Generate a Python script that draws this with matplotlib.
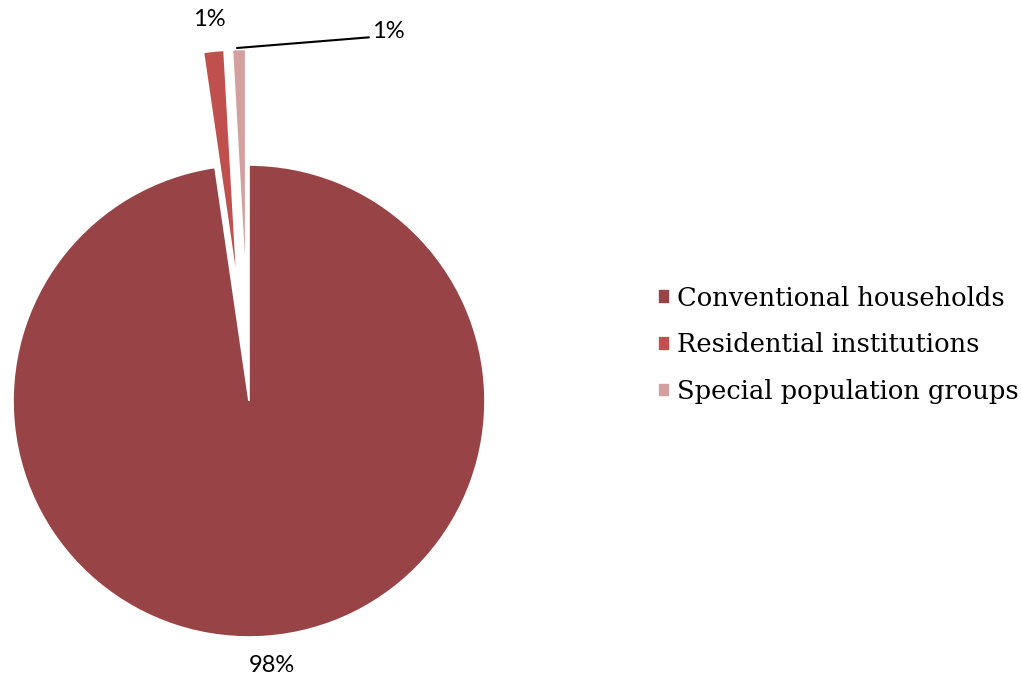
import matplotlib.pyplot as plt

# Population by type of living quarters (share, %)
categories = ['Conventional households', 'Residential institutions', 'Special population groups']
shares = [97.7, 1.4, 0.9]
colors = ['#984446', '#C0504D', '#D4A09F']

fig = plt.figure(figsize=(10.21, 6.79), dpi=100)
ax = fig.add_axes([0, 0, 1, 1])

# work in pixel-like units so the pie sits where it should
H = 679
R = 236
explode = [0, 0.49 * R, 0.49 * R]   # explode is in data units here
wedges, _ = ax.pie(shares, colors=colors, explode=explode, startangle=90,
                   counterclock=False, center=(249, H - 401), radius=R,
                   wedgeprops=dict(edgecolor='white', linewidth=1.2))
ax.set_xlim(0, 1021)
ax.set_ylim(0, H)
ax.set_aspect('equal')
ax.axis('off')

lab_font = dict(family='Lato', fontsize=17, color='black')
ax.text(272, H - 666, '%.0f%%' % shares[0], ha='center', va='center', **lab_font)
ax.text(209, H - 20, '%.0f%%' % shares[1], ha='center', va='center', **lab_font)
ax.annotate('%.0f%%' % shares[2], xy=(237, H - 48), xytext=(388, H - 32),
            ha='center', va='center',
            arrowprops=dict(arrowstyle='-', color='black', lw=1.5,
                            shrinkA=0, shrinkB=0, relpos=(-0.05, 0.25)),
            **lab_font)

leg = ax.legend(wedges, categories, loc='center left', bbox_to_anchor=(0.634, 0.492),
                bbox_transform=fig.transFigure, frameon=False,
                prop=dict(family='DejaVu Serif', size=18.5),
                handlelength=0.5, handleheight=0.5, handletextpad=0.25,
                labelspacing=0.85, borderaxespad=0)

fig.savefig('out.png', dpi=100)
